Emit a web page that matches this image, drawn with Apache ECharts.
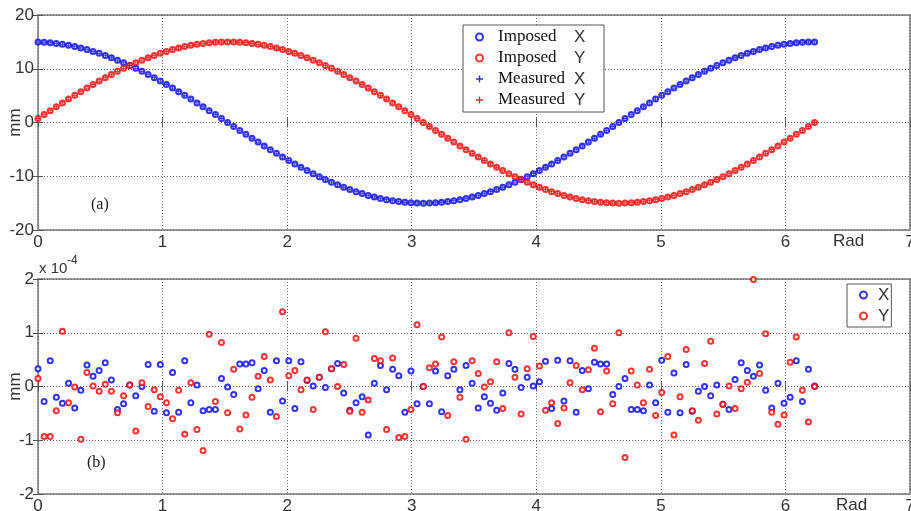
<!DOCTYPE html>
<html>
<head>
<meta charset="utf-8">
<script src="https://cdn.jsdelivr.net/npm/echarts@6/dist/echarts.min.js"></script>
<style>
  html, body { margin: 0; padding: 0; background: #fff; }
  #chart { width: 911px; height: 511px; }
</style>
</head>
<body>
<div id="chart"></div>
<script>
// angle (rad) of every sample, same for both panels
var tVals = [0, 0.049, 0.098, 0.147, 0.196, 0.245, 0.295, 0.344, 0.393, 0.442, 0.491, 0.540, 0.589, 0.638, 0.687, 0.736,
  0.785, 0.834, 0.884, 0.933, 0.982, 1.031, 1.080, 1.129, 1.178, 1.227, 1.276, 1.325, 1.374, 1.424, 1.473, 1.522,
  1.571, 1.620, 1.669, 1.718, 1.767, 1.816, 1.865, 1.914, 1.963, 2.013, 2.062, 2.111, 2.160, 2.209, 2.258, 2.307,
  2.356, 2.405, 2.454, 2.503, 2.553, 2.602, 2.651, 2.700, 2.749, 2.798, 2.847, 2.896, 2.945, 2.994, 3.043, 3.093,
  3.142, 3.191, 3.240, 3.289, 3.338, 3.387, 3.436, 3.485, 3.534, 3.583, 3.632, 3.682, 3.731, 3.780, 3.829, 3.878,
  3.927, 3.976, 4.025, 4.074, 4.123, 4.172, 4.222, 4.271, 4.320, 4.369, 4.418, 4.467, 4.516, 4.565, 4.614, 4.663,
  4.712, 4.762, 4.811, 4.860, 4.909, 4.958, 5.007, 5.056, 5.105, 5.154, 5.203, 5.252, 5.301, 5.351, 5.400, 5.449,
  5.498, 5.547, 5.596, 5.645, 5.694, 5.743, 5.792, 5.841, 5.890, 5.940, 5.989, 6.038, 6.087, 6.136, 6.185, 6.234];

// (a) imposed displacement, mm
var impX = [14.98, 14.93, 14.84, 14.71, 14.55, 14.35, 14.12, 13.86, 13.56, 13.23, 12.87, 12.47, 12.05, 11.60, 11.11, 10.61,
  10.07, 9.52, 8.94, 8.33, 7.71, 7.07, 6.41, 5.74, 5.05, 4.35, 3.64, 2.93, 2.20, 1.47, 0.74, 0.00,
  -0.74, -1.47, -2.20, -2.93, -3.64, -4.35, -5.05, -5.74, -6.41, -7.07, -7.71, -8.33, -8.94, -9.52, -10.07, -10.61,
  -11.11, -11.60, -12.05, -12.47, -12.87, -13.23, -13.56, -13.86, -14.12, -14.35, -14.55, -14.71, -14.84, -14.93, -14.98, -15.00,
  -14.98, -14.93, -14.84, -14.71, -14.55, -14.35, -14.12, -13.86, -13.56, -13.23, -12.87, -12.47, -12.05, -11.60, -11.11, -10.61,
  -10.07, -9.52, -8.94, -8.33, -7.71, -7.07, -6.41, -5.74, -5.05, -4.35, -3.64, -2.93, -2.20, -1.47, -0.74, 0.00,
  0.74, 1.47, 2.20, 2.93, 3.64, 4.35, 5.05, 5.74, 6.41, 7.07, 7.71, 8.33, 8.94, 9.52, 10.07, 10.61,
  11.11, 11.60, 12.05, 12.47, 12.87, 13.23, 13.56, 13.86, 14.12, 14.35, 14.55, 14.71, 14.84, 14.93, 14.98, 15.00];
var impY = [0.74, 1.47, 2.20, 2.93, 3.64, 4.35, 5.05, 5.74, 6.41, 7.07, 7.71, 8.33, 8.94, 9.52, 10.07, 10.61,
  11.11, 11.60, 12.05, 12.47, 12.87, 13.23, 13.56, 13.86, 14.12, 14.35, 14.55, 14.71, 14.84, 14.93, 14.98, 15.00,
  14.98, 14.93, 14.84, 14.71, 14.55, 14.35, 14.12, 13.86, 13.56, 13.23, 12.87, 12.47, 12.05, 11.60, 11.11, 10.61,
  10.07, 9.52, 8.94, 8.33, 7.71, 7.07, 6.41, 5.74, 5.05, 4.35, 3.64, 2.93, 2.20, 1.47, 0.74, 0.00,
  -0.74, -1.47, -2.20, -2.93, -3.64, -4.35, -5.05, -5.74, -6.41, -7.07, -7.71, -8.33, -8.94, -9.52, -10.07, -10.61,
  -11.11, -11.60, -12.05, -12.47, -12.87, -13.23, -13.56, -13.86, -14.12, -14.35, -14.55, -14.71, -14.84, -14.93, -14.98, -15.00,
  -14.98, -14.93, -14.84, -14.71, -14.55, -14.35, -14.12, -13.86, -13.56, -13.23, -12.87, -12.47, -12.05, -11.60, -11.11, -10.61,
  -10.07, -9.52, -8.94, -8.33, -7.71, -7.07, -6.41, -5.74, -5.05, -4.35, -3.64, -2.93, -2.20, -1.47, -0.74, 0.00];
// measured points sit on the imposed ones at this scale
var measX = impX;
var measY = impY;

// (b) error, in units of 1e-4 mm
var errX = [0.33, -0.28, 0.48, -0.20, -0.31, 0.06, -0.40, -0.07, 0.40, 0.19, 0.30, 0.44, 0.12, -0.43, -0.32, 0.03,
  -0.17, 0.00, 0.41, -0.46, 0.41, -0.49, 0.26, -0.48, 0.48, -0.30, 0.03,
  -0.45, -0.43, -0.43, 0.15, -0.01, -0.15, 0.42, 0.42, 0.44, -0.04, 0.30, -0.48, 0.48, -0.27, 0.48, -0.41, 0.46,
  0.11, 0.01, 0.17, -0.02, 0.33, 0.43, -0.12, -0.44, -0.30,
  -0.19, -0.90, 0.06, 0.39, -0.06, 0.32, 0.20, -0.48, 0.29, -0.32, 0.00, -0.32, 0.29, -0.47, 0.20, 0.32, -0.06,
  0.39, 0.06, -0.40, -0.19, -0.31, -0.44, -0.12, 0.43, 0.32,
  -0.02, 0.17, 0.01, 0.09, 0.47, -0.41, 0.49, -0.27, 0.48, -0.48, 0.30, -0.04, 0.45, 0.42, 0.42, -0.15, 0.00,
  0.15, -0.43, -0.43, -0.45, 0.03, -0.30, 0.49, -0.48, 0.25,
  -0.49, 0.41, -0.46, -0.09, 0.00, -0.17, 0.03, -0.33, -0.43, 0.13, 0.44, 0.30, 0.19, 0.40, -0.07, -0.40, 0.06,
  -0.31, -0.20, 0.48, -0.28, 0.32, 0.01];
var errY = [0.15, -0.93, -0.93, -0.45, 1.03, -0.30, -0.01, -0.98, 0.26, 0.01, -0.09, 0.04, -0.09, -0.49, -0.17, 0.03,
  -0.83, 0.07, -0.37, -0.06, -0.19, -0.30, -0.60, -0.07, -0.89, 0.07, -0.80,
  -1.19, 0.97, -0.28, 0.82, -0.49, 0.32, -0.79, -0.53, -0.20, 0.19, 0.56, 0.12, -0.56, 1.39, 0.20, 0.30, -0.06,
  0.12, -0.43, 0.17, 1.02, 0.33, 0.00, 0.41, -0.46, 0.90,
  -0.48, -0.25, 0.52, 0.48, -0.80, 0.53, -0.95, -0.93, -0.43, 1.15, 0.00, 0.35, 0.42, 0.92, -0.54, 0.46, -0.20,
  -0.98, 0.48, 0.24, -0.01, 0.09, 0.46, -0.41, 1.00, 0.17,
  -0.51, 0.33, 0.93, 0.38, -0.44, -0.30, -0.69, -0.40, 0.07, 0.39, -0.06, 0.31, 0.71, -0.47, 0.29, -0.32, 1.00,
  -1.32, 0.29, 0.03, -0.30, 0.32, -0.54, -0.11, 0.56, -0.90,
  -0.19, 0.69, -0.45, -0.63, 0.43, 0.84, -0.51, -0.33, 0.01, -0.41, -0.04, 0.08, 1.99, 0.24, 0.98, -0.48, -0.70,
  -0.53, 0.45, 0.92, -0.07, -0.66, 0.00];

var BLUE = '#0000ff', RED = '#ff0000';
var SANS = 'Liberation Sans', SERIF = 'Liberation Serif';
var plus = 'path://M4,0h2v4h4v2h-4v4h-2v-4h-4v-2h4z';

function pairs(ys) {
  return tVals.map(function (t, i) { return [t, ys[i]]; });
}

function xAx(grid, pos) {
  return {
    type: 'value', gridIndex: grid, position: pos, min: 0, max: 7, interval: 1,
    axisLine: { show: false },
    axisTick: { show: true, inside: true, length: 5, lineStyle: { color: '#555' } },
    axisLabel: { show: pos === 'bottom', margin: 4, fontSize: 17, fontFamily: SANS, color: '#333' },
    splitLine: { show: pos === 'bottom', lineStyle: { color: '#666', type: [1, 2], width: 1 } }
  };
}
function yAx(grid, pos, lim, step) {
  return {
    type: 'value', gridIndex: grid, position: pos, min: -lim, max: lim, interval: step,
    name: pos === 'left' ? 'mm' : '', nameLocation: 'middle', nameGap: 14, nameMoveOverlap: false,
    nameTextStyle: { fontSize: 17, fontFamily: SANS, color: '#333' },
    axisLine: { show: false },
    axisTick: { show: true, inside: true, length: 5, lineStyle: { color: '#555' } },
    axisLabel: { show: pos === 'left', margin: 4, fontSize: 17, fontFamily: SANS, color: '#333' },
    splitLine: { show: pos === 'left', lineStyle: { color: '#666', type: [1, 2], width: 1 } }
  };
}

var legendRich = {
  a: { fontFamily: SERIF, fontSize: 17, color: '#111', width: 76, padding: [0, 0, 0, 10] },
  b: { fontFamily: SANS, fontSize: 17, color: '#333', width: 20 },
  c: { fontFamily: SANS, fontSize: 17, color: '#333', padding: [0, 0, 0, 6] }
};

var option = {
  animation: false,
  backgroundColor: '#fff',
  grid: [
    { left: 38, right: 1, top: 15, height: 215, outerBoundsMode: 'none', containLabel: false,
      show: true, borderColor: '#999', borderWidth: 2 },
    { left: 38, right: 1, top: 279, height: 215, outerBoundsMode: 'none', containLabel: false,
      show: true, borderColor: '#999', borderWidth: 2 }
  ],
  xAxis: [xAx(0, 'bottom'), xAx(0, 'top'), xAx(1, 'bottom'), xAx(1, 'top')],
  yAxis: [yAx(0, 'left', 20, 10), yAx(0, 'right', 20, 10), yAx(1, 'left', 2, 1), yAx(1, 'right', 2, 1)],
  legend: [
    {
      orient: 'vertical', left: 463, top: 25, itemWidth: 7, itemHeight: 7, itemGap: 1,
      padding: [2, 10, 2, 12], borderColor: '#555', borderWidth: 1, backgroundColor: '#fff',
      data: ['Imposed X', 'Imposed Y', 'Measured X', 'Measured Y'],
      formatter: function (n) { var p = n.split(' '); return '{a|' + p[0] + '}{b|' + p[1] + '}'; },
      textStyle: { lineHeight: 20, rich: legendRich }
    },
    {
      orient: 'vertical', left: 847, top: 284, itemWidth: 7, itemHeight: 7, itemGap: 1,
      padding: [1, 2, 1, 12], borderColor: '#555', borderWidth: 1, backgroundColor: '#fff',
      data: ['X', 'Y'],
      formatter: function (n) { return '{c|' + n + '}'; },
      textStyle: { lineHeight: 20, rich: legendRich }
    }
  ],
  series: [
    { name: 'Imposed X', type: 'scatter', xAxisIndex: 0, yAxisIndex: 0, data: pairs(impX),
      symbol: 'emptyCircle', symbolSize: 5, itemStyle: { color: BLUE, borderColor: 'rgba(70,70,255,0.8)', borderWidth: 2 } },
    { name: 'Imposed Y', type: 'scatter', xAxisIndex: 0, yAxisIndex: 0, data: pairs(impY),
      symbol: 'emptyCircle', symbolSize: 5, itemStyle: { color: RED, borderColor: 'rgba(255,70,70,0.8)', borderWidth: 2 } },
    { name: 'Measured X', type: 'scatter', xAxisIndex: 0, yAxisIndex: 0, data: pairs(measX),
      symbol: plus, symbolSize: 4, itemStyle: { color: '#0000c0' } },
    { name: 'Measured Y', type: 'scatter', xAxisIndex: 0, yAxisIndex: 0, data: pairs(measY),
      symbol: plus, symbolSize: 4, itemStyle: { color: '#c00000' } },
    { name: 'X', type: 'scatter', xAxisIndex: 2, yAxisIndex: 2, data: pairs(errX),
      symbol: 'emptyCircle', symbolSize: 5, itemStyle: { color: BLUE, borderColor: BLUE, borderWidth: 1.8 } },
    { name: 'Y', type: 'scatter', xAxisIndex: 2, yAxisIndex: 2, data: pairs(errY),
      symbol: 'emptyCircle', symbolSize: 5, itemStyle: { color: RED, borderColor: RED, borderWidth: 1.8 } }
  ],
  graphic: [
    { type: 'text', left: 833, top: 233, style: { text: 'Rad', font: '17px ' + SANS, fill: '#333' } },
    { type: 'text', left: 836, top: 497, style: { text: 'Rad', font: '17px ' + SANS, fill: '#333' } },
    { type: 'text', left: 91, top: 197, style: { text: '(a)', font: '16px ' + SERIF, fill: '#222' } },
    { type: 'text', left: 87, top: 455, style: { text: '(b)', font: '16px ' + SERIF, fill: '#222' } },
    { type: 'text', left: 39, top: 261, style: { text: 'x 10', font: '15px ' + SANS, fill: '#333' } },
    { type: 'text', left: 67, top: 255, style: { text: '-4', font: '12px ' + SANS, fill: '#333' } }
  ]
};

var chart = echarts.init(document.getElementById('chart'));
chart.setOption(option);
</script>
</body>
</html>
